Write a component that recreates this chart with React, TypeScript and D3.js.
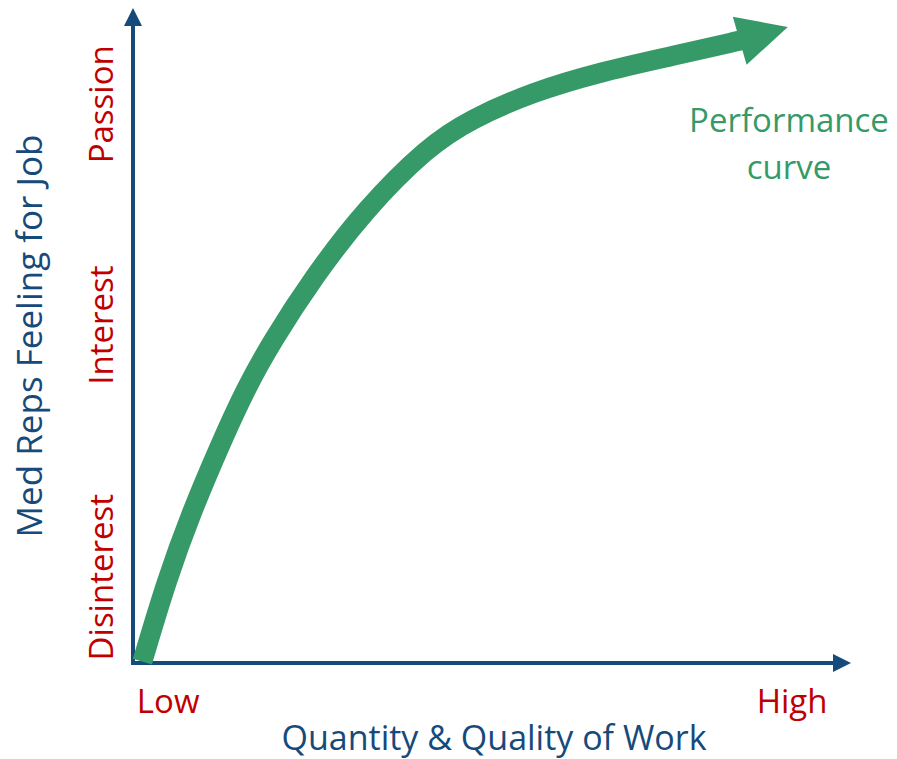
import React from "react";
import * as d3 from "d3";

// Performance curve (x: work, y: feeling), 0..10 units
const curveX = [0.13, 0.47, 0.81, 1.2, 1.57, 1.93, 2.52, 3.23, 4.1, 4.7, 5.57, 6.5, 7.44, 8.45];
const curveY = [0.02, 1.27, 2.29, 3.3, 4.19, 4.9, 5.9, 6.92, 7.88, 8.3, 8.72, 9.02, 9.25, 9.5];
const arrowTip = [9.12, 9.71];

const yLabels = ["Disinterest", "Interest", "Passion"];
const yLabelPos = [1.31, 5.16, 8.53];
const xLabels = ["Low", "High"];
const xLabelPos = [0.49, 9.18];

const xTitle = "Quantity & Quality of Work";
const yTitle = "Med Reps Feeling for Job";
const curveLabel = ["Performance", "curve"];

const W = 897;
const H = 759;
const NAVY = "#164a7a";
const RED = "#c00000";
const GREEN = "#359a68";
const FONT = "'Open Sans', sans-serif";

export default function App() {
  const x = d3.scaleLinear().domain([0, 10]).range([133, 851]);
  const y = d3.scaleLinear().domain([0, 10]).range([663, 8]);

  const pts: [number, number][] = curveX.map((v, i) => [x(v), y(curveY[i])]);
  const line = d3.line().curve(d3.curveBasis);

  // arrowhead from the last point towards the tip
  const base = pts[pts.length - 1];
  const tip: [number, number] = [x(arrowTip[0]), y(arrowTip[1])];
  const dx = tip[0] - base[0];
  const dy = tip[1] - base[1];
  const len = Math.hypot(dx, dy);
  const px = -dy / len;
  const py = dx / len;
  const hw = 25;
  const head = [
    [base[0] + px * hw, base[1] + py * hw],
    tip,
    [base[0] - px * hw, base[1] - py * hw],
  ];
  // run the shaft a little under the head so no gap shows
  const shaft = [...pts, [base[0] + (dx / len) * 6, base[1] + (dy / len) * 6] as [number, number]];

  const x0 = x(0);
  const y0 = y(0);

  return (
    <svg width={W} height={H} style={{ position: "absolute", left: 0, top: 0 }} fontFamily={FONT}>
      <rect width={W} height={H} fill="#fff" />

      {/* axes */}
      <line x1={x0} y1={y0} x2={x0} y2={y(10) + 14} stroke={NAVY} strokeWidth={4} />
      <polygon points={`${x0},${y(10)} ${x0 - 9},${y(10) + 18} ${x0 + 9},${y(10) + 18}`} fill={NAVY} />
      <line x1={x0 - 2} y1={y0} x2={x(10) - 14} y2={y0} stroke={NAVY} strokeWidth={4} />
      <polygon points={`${x(10)},${y0} ${x(10) - 18},${y0 - 9} ${x(10) - 18},${y0 + 9}`} fill={NAVY} />

      {/* curve */}
      <path d={line(shaft) || ""} fill="none" stroke={GREEN} strokeWidth={20} />
      <polygon points={head.map((p) => p.join(",")).join(" ")} fill={GREEN} />

      {/* y category labels */}
      {yLabels.map((t, i) => (
        <text
          key={t}
          transform={`translate(113,${y(yLabelPos[i])}) rotate(-90)`}
          textAnchor="middle"
          fontSize={33}
          fill={RED}
        >
          {t}
        </text>
      ))}

      {/* x category labels */}
      {xLabels.map((t, i) => (
        <text key={t} x={x(xLabelPos[i])} y={713} textAnchor="middle" fontSize={33} fill={RED}>
          {t}
        </text>
      ))}

      {/* titles */}
      <text x={494} y={750} textAnchor="middle" fontSize={34} fill={NAVY}>
        {xTitle}
      </text>
      <text transform="translate(42,336) rotate(-90)" textAnchor="middle" fontSize={35} fill={NAVY}>
        {yTitle}
      </text>

      {/* curve label */}
      {curveLabel.map((t, i) => (
        <text key={t} x={789} y={132 + i * 47} textAnchor="middle" fontSize={33} fill={GREEN}>
          {t}
        </text>
      ))}
    </svg>
  );
}
